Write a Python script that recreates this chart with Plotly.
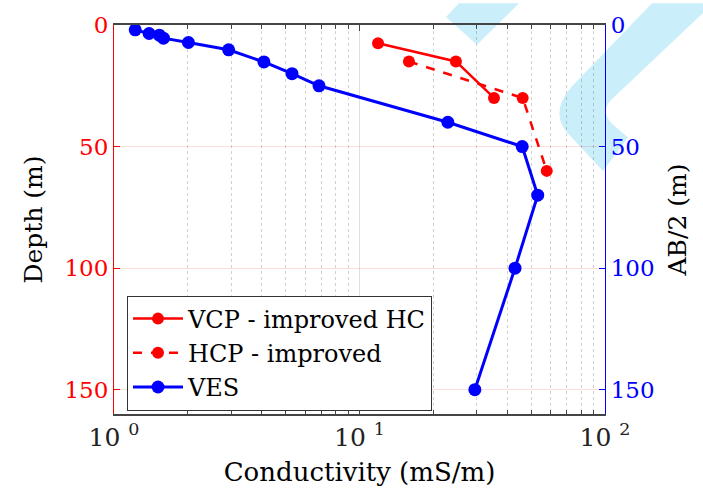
import plotly.graph_objects as go

# ---- data ----
ves_cond = [1.22, 1.39, 1.53, 1.59, 2.01, 2.93, 4.08, 5.31, 6.84, 22.9, 46.0, 53.2, 43.0, 29.5]
ves_depth = [2, 3.5, 4.2, 5.4, 7.2, 10.2, 15.2, 20, 25, 40, 50, 70, 100, 150]
vcp_cond = [11.9, 24.7, 35.3]
vcp_depth = [7.5, 15, 30]
hcp_cond = [15.9, 46.2, 57.9]
hcp_depth = [15, 30, 60]

x_tickvals = [1, 10, 100]
x_ticktext = ["10 <sup>0</sup>", "10 <sup>1</sup>", "10 <sup>2</sup>"]
x_minorvals = [2, 3, 4, 5, 6, 7, 8, 9, 20, 30, 40, 50, 60, 70, 80, 90]
y_tickvals = [0, 50, 100, 150]

FONT = "DejaVu Serif"
W, H = 703, 500
L, R, T, B = 114, 605, 20, 414

def px(xp, yp):
    return (xp - L) / (R - L), (B - yp) / (B - T)

def path(segs):
    s = ""
    for cmd, pts in segs:
        s += cmd + " " + " ".join("%.4f,%.4f" % px(*p) for p in pts) + " "
    return s + "Z"

fig = go.Figure()
fig.add_trace(go.Scatter(x=vcp_cond, y=vcp_depth, mode="lines+markers", name="VCP - improved HC",
                         line=dict(color="red", width=2.5), marker=dict(size=12, color="red")))
fig.add_trace(go.Scatter(x=hcp_cond, y=hcp_depth, mode="lines+markers", name="HCP - improved",
                         line=dict(color="red", width=2.5, dash="dash"), marker=dict(size=12, color="red")))
fig.add_trace(go.Scatter(x=ves_cond, y=ves_depth, mode="lines+markers", name="VES", yaxis="y2",
                         line=dict(color="blue", width=3), marker=dict(size=13, color="blue")))

cyan = "rgb(202,238,250)"
diamond = path([("M", [(459, -2)]), ("L", [(519, -2)]), ("L", [(477, 40)]), ("L", [(446, 12)])])
hook = path([
    ("M", [(652, -2)]),
    ("L", [(705, -2)]),
    ("L", [(705, 6)]),
    ("L", [(611, 96)]),
    ("Q", [(600, 108), (612, 120)]),
    ("L", [(628, 134)]),
    ("L", [(603, 168)]),
    ("L", [(568, 130)]),
    ("Q", [(549, 108), (572, 82)]),
])
shapes = [
    dict(type="path", xref="paper", yref="paper", path=diamond, fillcolor=cyan, line=dict(width=0), layer="below"),
    dict(type="path", xref="paper", yref="paper", path=hook, fillcolor=cyan, line=dict(width=0), layer="below"),
]

fig.update_layout(
    width=W, height=H,
    margin=dict(l=L, r=W - R, t=T, b=H - B),
    paper_bgcolor="white", plot_bgcolor="rgba(0,0,0,0)",
    font=dict(family=FONT, size=22, color="black"),
    shapes=shapes,
    showlegend=True,
    legend=dict(x=(127 - L) / (R - L), y=(B - 294) / (B - T), xanchor="left", yanchor="top",
                bgcolor="white", bordercolor="#333", borderwidth=1,
                font=dict(family=FONT, size=24), tracegroupgap=0, itemwidth=50),
    xaxis=dict(type="log", range=[0, 2], tickmode="array", tickvals=x_tickvals, ticktext=x_ticktext,
               ticks="inside", ticklen=6, tickcolor="#444", showline=True, linecolor="#444", linewidth=1.5,
               mirror="ticks", showgrid=True, gridcolor="rgba(0,0,0,0.12)", gridwidth=1,
               tickfont=dict(size=25, color="#222"), zeroline=False,
               minor=dict(tickmode="array", tickvals=x_minorvals, ticks="inside", ticklen=4,
                          tickcolor="#444", showgrid=True,
                          gridcolor="rgba(0,0,0,0.18)", griddash="dot", gridwidth=1),
               title=dict(text="Conductivity (mS/m)", font=dict(size=26), standoff=12)),
    yaxis=dict(range=[160, 0], tickvals=y_tickvals, ticks="inside", ticklen=6, tickcolor="red",
               showline=True, linecolor="red", linewidth=1.2, showgrid=True,
               gridcolor="rgba(255,0,0,0.13)", gridwidth=1, zeroline=False,
               tickfont=dict(size=23, color="red"),
               title=dict(text="Depth (m)", font=dict(size=25), standoff=14)),
    yaxis2=dict(range=[160, 0], tickvals=y_tickvals, ticks="inside", ticklen=6, tickcolor="blue",
                overlaying="y", side="right", showline=True, linecolor="blue", linewidth=1.2,
                showgrid=False, zeroline=False, tickfont=dict(size=23, color="blue"),
                title=dict(text="AB/2 (m)", font=dict(size=25), standoff=14)),
)

fig.write_html("out.html")
